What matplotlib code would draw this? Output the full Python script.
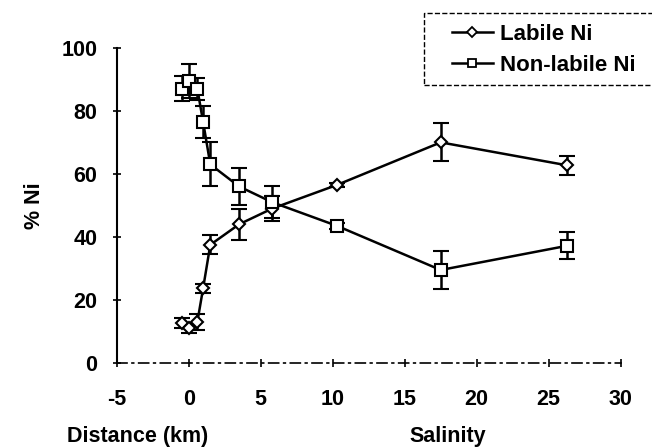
import matplotlib
matplotlib.use("Agg")
import matplotlib.pyplot as plt
from matplotlib.lines import Line2D
from matplotlib.patches import Rectangle

plt.rcParams['font.family'] = ['Liberation Sans', 'DejaVu Sans']
plt.rcParams['axes.unicode_minus'] = False

# x positions (distance / salinity scale)
x_vals = [-0.5, 0.0, 0.6, 1.0, 1.5, 3.5, 5.8, 10.3, 17.5, 26.3]

labile = [12.7, 11.0, 13.0, 23.7, 37.5, 44.0, 49.0, 56.5, 70.0, 62.7]
labile_err = [1.5, 1.5, 2.5, 1.5, 3.0, 5.0, 4.0, 0.7, 6.0, 3.0]

non_labile = [87.0, 89.5, 87.0, 76.5, 63.0, 56.0, 51.0, 43.5, 29.5, 37.2]
non_labile_err = [4.0, 5.5, 3.5, 5.0, 7.0, 6.0, 5.0, 1.0, 6.0, 4.2]

x_ticks = [-5, 0, 5, 10, 15, 20, 25, 30]
y_ticks = [0, 20, 40, 60, 80, 100]


def main():
    fig = plt.figure(figsize=(6.52, 4.47), dpi=100)
    ax = fig.add_axes([0.179, 0.188, 0.773, 0.705])

    ax.errorbar(x_vals, labile, yerr=labile_err, color='black', lw=1.8,
                marker='D', ms=6, mfc='white', mec='black', mew=1.5,
                capsize=6, capthick=1.8, elinewidth=1.8)
    ax.errorbar(x_vals, non_labile, yerr=non_labile_err, color='black', lw=1.8,
                marker='s', ms=8, mfc='white', mec='black', mew=1.5,
                capsize=6, capthick=1.8, elinewidth=1.8)

    ax.set_xlim(-5, 30)
    ax.set_ylim(0, 100)
    ax.set_xticks(x_ticks)
    ax.set_yticks(y_ticks)
    ax.tick_params(direction='inout', length=6, width=1.2, labelsize=15.5)
    ax.tick_params(axis='x', pad=16)
    ax.tick_params(axis='y', pad=11)
    for lab in ax.get_xticklabels() + ax.get_yticklabels():
        lab.set_fontweight('bold')

    ax.spines['top'].set_visible(False)
    ax.spines['right'].set_visible(False)
    ax.spines['left'].set_linewidth(1.5)
    ax.spines['bottom'].set_linewidth(1.2)
    ax.spines['bottom'].set_linestyle((0, (6, 3, 1, 3)))

    ax.set_ylabel('% Ni', fontsize=15.5, fontweight='bold', labelpad=12)

    fig.text(0.211, 0.012, 'Distance (km)', fontsize=15.5, fontweight='bold',
             ha='center', va='baseline')
    fig.text(0.687, 0.012, 'Salinity', fontsize=15.5, fontweight='bold',
             ha='center', va='baseline')

    # dashed legend box, running past the right edge as in the scan
    box = Rectangle((0.650, 0.810), 0.40, 0.161, transform=fig.transFigure,
                    fill=False, edgecolor='black', lw=1.0, linestyle='--',
                    clip_on=False)
    fig.patches.append(box)

    handles = [
        Line2D([], [], color='black', lw=1.8, marker='D', ms=5, mfc='white',
               mec='black', mew=1.3),
        Line2D([], [], color='black', lw=1.8, marker='s', ms=6, mfc='white',
               mec='black', mew=1.3),
    ]
    leg = fig.legend(handles, ['Labile Ni', 'Non-labile Ni'], loc='upper left',
                     bbox_to_anchor=(0.693, 0.946), fontsize=16,
                     frameon=False, handlelength=1.85,
                     borderpad=0, labelspacing=0.45, handletextpad=0.3,
                     borderaxespad=0)
    for t in leg.get_texts():
        t.set_fontweight('bold')

    fig.savefig('out.png', dpi=100)


if __name__ == "__main__":
    main()
